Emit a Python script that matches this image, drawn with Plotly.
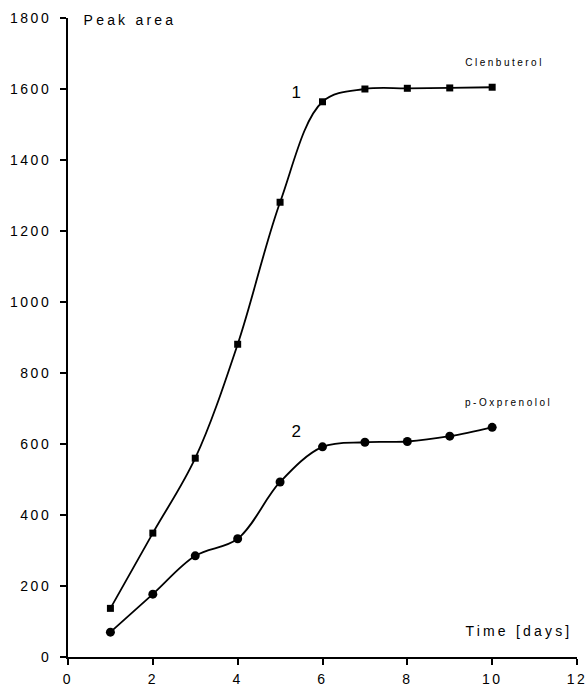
import plotly.graph_objects as go

# Peak area over storage time for two analytes
days = [1, 2, 3, 4, 5, 6, 7, 8, 9, 10]
clenbuterol = [137, 349, 560, 881, 1281, 1564, 1600, 1602, 1603, 1605]
oxprenolol = [70, 177, 285, 333, 493, 592, 605, 607, 622, 647]

x_ticks = [0, 2, 4, 6, 8, 10, 12]
y_ticks = [0, 200, 400, 600, 800, 1000, 1200, 1400, 1600, 1800]

FONT = "Arial, Liberation Sans, sans-serif"
INK = "#000000"

fig = go.Figure()

fig.add_trace(go.Scatter(
    x=days, y=clenbuterol, mode="lines+markers",
    line=dict(color=INK, width=1.8, shape="spline", smoothing=1.0),
    marker=dict(symbol="square", size=7, color=INK),
    showlegend=False,
))
fig.add_trace(go.Scatter(
    x=days, y=oxprenolol, mode="lines+markers",
    line=dict(color=INK, width=1.8, shape="spline", smoothing=1.0),
    marker=dict(symbol="circle", size=9, color=INK),
    showlegend=False,
))

axis_common = dict(
    showgrid=False, zeroline=False, automargin=False,
    showline=True, linecolor=INK, linewidth=2,
    ticks="outside", ticklen=6, tickwidth=2, tickcolor=INK,
    tickfont=dict(family=FONT, size=14, color=INK),
)

fig.update_xaxes(range=[0, 12], tickvals=x_ticks, ticklabelstandoff=2, **axis_common)
fig.update_yaxes(range=[0, 1800], tickvals=y_ticks, ticklabelstandoff=6, **axis_common)

annotations = [
    dict(text="Peak area", xref="paper", yref="paper", x=0.1216, y=0.997,
         xanchor="center", yanchor="middle", font=dict(size=14)),
    dict(text="Time [days]", xref="paper", yref="paper", x=0.887, y=0.04,
         xanchor="center", yanchor="middle", font=dict(size=14)),
    dict(text="1", xref="x", yref="y", x=5.42, y=1589,
         xanchor="center", yanchor="middle", font=dict(size=17)),
    dict(text="2", xref="x", yref="y", x=5.42, y=634,
         xanchor="center", yanchor="middle", font=dict(size=17)),
    dict(text="Clenbuterol", xref="x", yref="y", x=10.28, y=1676,
         xanchor="center", yanchor="middle", font=dict(size=10)),
    dict(text="p-Oxprenolol", xref="x", yref="y", x=10.39, y=718,
         xanchor="center", yanchor="middle", font=dict(size=10)),
]
for a in annotations:
    a["showarrow"] = False
    a["font"].update(family=FONT, color=INK)

fig.update_layout(
    width=587, height=686,
    margin=dict(l=67.5, r=9.5, t=18, b=29),
    paper_bgcolor="white", plot_bgcolor="white",
    annotations=annotations,
)

# widen the letter spacing of all chart text
spacing_js = """
var gd = document.querySelector('.js-plotly-plot');
gd.querySelectorAll('.xtick text, .ytick text').forEach(function(t){
  t.style.letterSpacing = '2.5px';
});
gd.querySelectorAll('.annotation-text').forEach(function(t){
  var fs = parseFloat(t.style.fontSize) || 12;
  t.style.letterSpacing = (fs >= 14 ? '3.2px' : '2.5px');
});
"""

fig.write_html("out.html", post_script=spacing_js)
